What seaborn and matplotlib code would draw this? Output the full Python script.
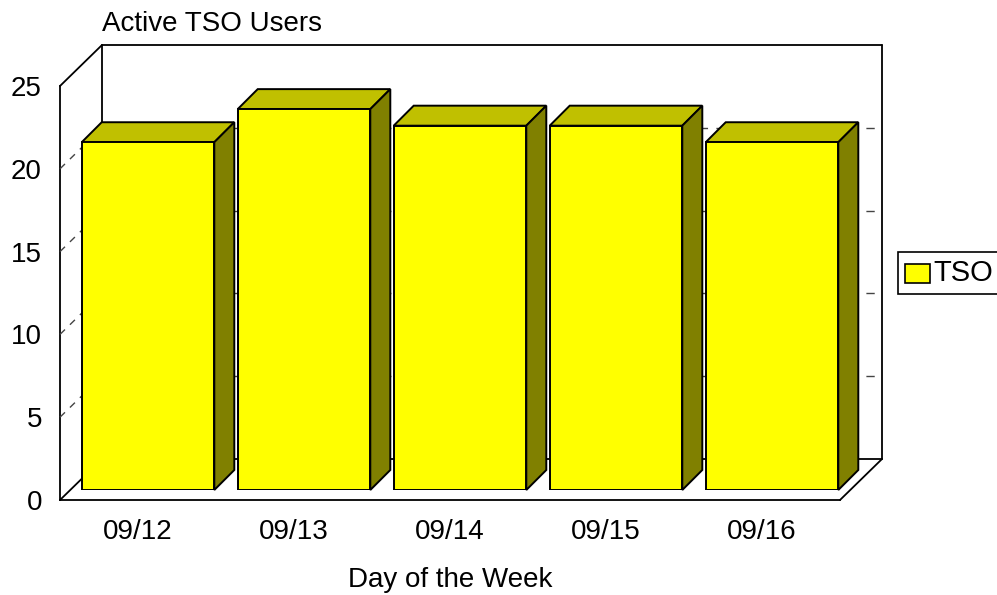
import matplotlib
matplotlib.use('Agg')
import matplotlib.pyplot as plt
from matplotlib.lines import Line2D
from matplotlib.patches import Patch, Polygon
from matplotlib.transforms import IdentityTransform
import pandas as pd
import seaborn as sns

days = ['09/12', '09/13', '09/14', '09/15', '09/16']
users = [21, 23, 22, 22, 21]
y_ticks = [0, 5, 10, 15, 20, 25]
grid_values = [5, 10, 15, 20]

W, H = 997, 595
YELLOW = '#ffff00'
TOP = '#c0c000'
SIDE = '#808000'
WALL = (42, 41)     # depth of the box, pixels
BAR_SHIFT = 10      # bars sit this far inside the box
BAR_DEPTH = 20

sns.set_theme(style='white')
plt.rcParams['font.family'] = ['Liberation Sans', 'DejaVu Sans']
plt.rcParams['text.color'] = 'black'
plt.rcParams['axes.labelcolor'] = 'black'
plt.rcParams['xtick.color'] = 'black'
plt.rcParams['ytick.color'] = 'black'

fig = plt.figure(figsize=(W / 100, H / 100), dpi=100, facecolor='white')


def place(left, right, top, bottom):
    return [left / W, 1 - bottom / H, (right - left) / W, (bottom - top) / H]


# box axes, ticks and labels live here
ax = fig.add_axes(place(60, 840, 86, 500))
ax.set_xlim(-0.5, 4.5)
ax.set_ylim(0, 25)
ax.set_xticks(range(len(days)), days)
ax.set_yticks(y_ticks)
ax.tick_params(length=0, labelsize=20, pad=14)
ax.tick_params(axis='y', pad=13)
ax.patch.set_alpha(0)
ax.set_zorder(0)
sns.despine(ax=ax)
for s in ['left', 'bottom']:
    ax.spines[s].set_color('black')
    ax.spines[s].set_linewidth(1.3)
ax.set_xlabel('Day of the Week', fontsize=20, labelpad=15.5)

# bars, shifted into the box
ax_bars = fig.add_axes(place(60 + BAR_SHIFT, 840 + BAR_SHIFT, 86 - BAR_SHIFT, 500 - BAR_SHIFT))
df = pd.DataFrame({'day': days, 'users': users})
sns.barplot(data=df, x='day', y='users', color=YELLOW, saturation=1, width=0.85,
            edgecolor='black', linewidth=1.4, ax=ax_bars)
ax_bars.set_xlim(-0.5, 4.5)
ax_bars.set_ylim(0, 25)
ax_bars.axis('off')
ax_bars.set_zorder(3)

px = IdentityTransform()


def pix(a, x, y):
    return a.transData.transform((x, y))


def seg(p, q, **kw):
    style = dict(color='black', lw=1.3, zorder=1, solid_capstyle='round')
    style.update(kw)
    fig.add_artist(Line2D([p[0], q[0]], [p[1], q[1]], transform=px, **style))


def back(p):
    return p[0] + WALL[0], p[1] + WALL[1]


# wire frame of the box
corners = {
    'bl': pix(ax, -0.5, 0), 'br': pix(ax, 4.5, 0),
    'tl': pix(ax, -0.5, 25), 'tr': pix(ax, 4.5, 25),
}
seg(corners['bl'], back(corners['bl']))
seg(corners['br'], back(corners['br']))
seg(corners['tl'], back(corners['tl']))
seg(back(corners['bl']), back(corners['br']))
seg(back(corners['tl']), back(corners['tr']))
seg(back(corners['bl']), back(corners['tl']))
seg(back(corners['br']), back(corners['tr']))

# dashed grid on the left wall and the back wall
for v in grid_values:
    p = pix(ax, -0.5, v)
    q = pix(ax, 4.5, v)
    seg(p, back(p), color='#444444', lw=1.0, linestyle=(0, (5, 5)))
    seg(back(p), back(q), color='#444444', lw=1.0, linestyle=(2, (6, 6)))

# top and side faces from the bars that seaborn drew
for bar in ax_bars.patches:
    x0, x1 = bar.get_x(), bar.get_x() + bar.get_width()
    h = bar.get_height()
    a, b = pix(ax_bars, x0, h), pix(ax_bars, x1, h)
    c = pix(ax_bars, x1, 0)
    d = BAR_DEPTH
    top = [a, b, (b[0] + d, b[1] + d), (a[0] + d, a[1] + d)]
    side = [b, c, (c[0] + d, c[1] + d), (b[0] + d, b[1] + d)]
    fig.add_artist(Polygon(top, closed=True, facecolor=TOP, edgecolor='black', lw=1.4,
                           transform=px, zorder=2))
    fig.add_artist(Polygon(side, closed=True, facecolor=SIDE, edgecolor='black', lw=1.4,
                           transform=px, zorder=2))

fig.text(102 / W, 1 - 24 / H, 'Active TSO Users', fontsize=20, ha='left', va='center')

handle = Patch(facecolor=YELLOW, edgecolor='black', linewidth=1.2, label='TSO')
leg = fig.legend(handles=[handle], loc='center left', bbox_to_anchor=(898 / W, 1 - 273 / H),
                 fontsize=21, frameon=True, fancybox=False, edgecolor='black', framealpha=1,
                 borderpad=0.25, handlelength=0.85, handleheight=0.58, handletextpad=0.1,
                 borderaxespad=0)
leg.get_frame().set_linewidth(1.2)
leg.legend_handles[0].set_y(leg.legend_handles[0].get_y() - 2)

fig.savefig('out.png', dpi=100)
